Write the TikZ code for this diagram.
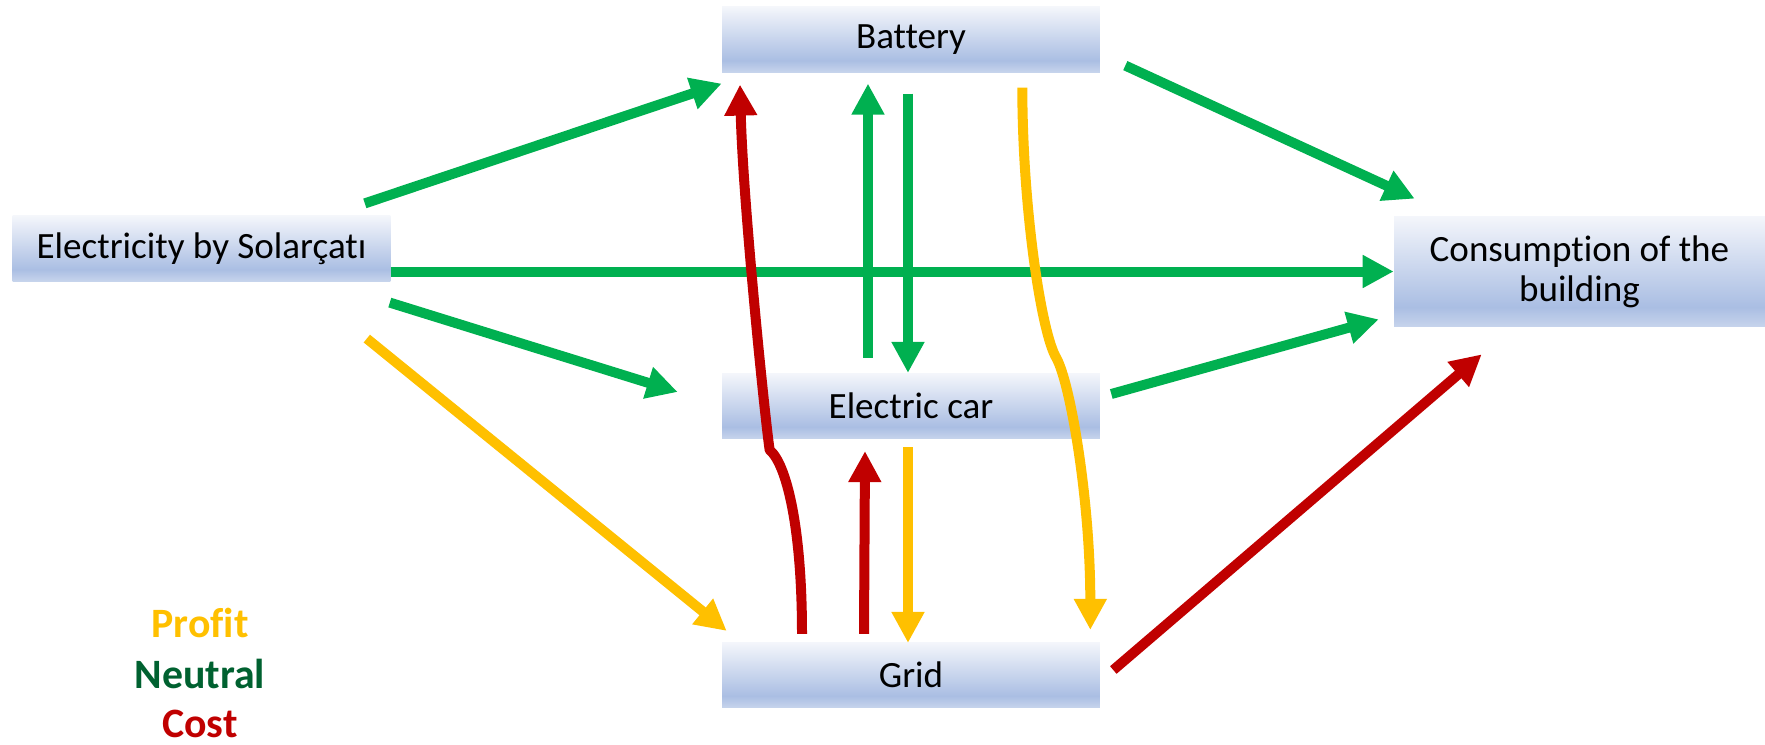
\documentclass[tikz,border=0pt]{standalone}
\usepackage{fontspec}
\setmainfont[RawFeature={-liga;-clig}]{Carlito}
\usetikzlibrary{arrows.meta}
\definecolor{flowgreen}{RGB}{0, 176, 80}
\definecolor{flowred}{RGB}{192, 0, 0}
\definecolor{flowgold}{RGB}{255, 192, 0}
\definecolor{flowdkgreen}{RGB}{0, 97, 48}
\definecolor{boxtop}{RGB}{244, 246, 251}
\definecolor{boxdark}{RGB}{170, 190, 227}
\definecolor{boxbot}{RGB}{199, 212, 236}
\pgfdeclareverticalshading{boxfade}{100bp}{color(0bp)=(boxbot); color(25bp)=(boxbot); color(34bp)=(boxdark); color(75bp)=(boxtop); color(100bp)=(boxtop)}

\begin{document}
\begin{tikzpicture}[
  x=0.02cm, y=-0.02cm,
  flowbox/.style={
    rectangle, shade, shading=boxfade, inner sep=0pt,
    minimum width=7.56cm, minimum height=1.31cm,
    text centered, align=center, text=black,
    font=\fontsize{21.1}{22.8}\selectfont},
  legendtext/.style={anchor=base, text=#1,
    font=\fontsize{23.8}{27}\selectfont\bfseries},
  arr/.style={-{Triangle[length=0.62cm, width=0.62cm]}, line width=0.2cm, color=#1},
  curvearr/.style={arr=#1, line join=round}
]
\useasboundingbox (0,0) rectangle (1765,744);

% ── Boxes ─────────────────────────────────────────────────
\node[flowbox] (solar)   at (201.5, 248.5) {Electricity by Solarçatı};
\node[flowbox] (battery) at (911, 39.5)    {Battery};
\node[flowbox] (car)     at (911, 406)     {Electric car};
\node[flowbox] (grid)    at (911, 675)     {Grid};
\node[flowbox, minimum width=7.42cm, minimum height=2.22cm] (building) at (1579.5, 271.5) {Consumption of the\\building};

% ── Legend ────────────────────────────────────────────────
\node[legendtext=flowgold]    (profit)  at (200, 637) {Profit};
\node[legendtext=flowdkgreen] (neutral) at (200, 688) {Neutral};
\node[legendtext=flowred]     (cost)    at (200, 737) {Cost};

% ── Arrows: from Solarçatı ────────────────────────────────
\draw[arr=flowgreen] ([shift={(-26,-12)}]solar.north east) -- ([shift={(0,11)}]battery.south west);
\draw[arr=flowgreen] (solar.east |- building.west) -- (building.west);
\draw[arr=flowgreen] ([shift={(-1,21)}]solar.south east) -- ([shift={(-44,-14)}]car.west);
\draw[arr=flowgold]  ([shift={(-24,57)}]solar.south east) -- ([shift={(5,-11)}]grid.north west);

% ── Arrows: into the building ─────────────────────────────
\draw[arr=flowgreen] ([shift={(25,-7)}]battery.south east) -- ([shift={(21,-17)}]building.north west);
\draw[arr=flowgreen] ([shift={(11,-12)}]car.east) -- ([shift={(-15,-8)}]building.south west);
\draw[arr=flowred]   ([shift={(13,-5)}]grid.east) -- ([shift={(88,27)}]building.south west);

% ── Arrows: battery / car / grid ──────────────────────────
\draw[arr=flowgreen] ([shift={(-43,-15)}]car.north) -- ([shift={(-43,11)}]battery.south);
\draw[arr=flowgreen] ([shift={(-3,21)}]battery.south) -- ([shift={(-3,0)}]car.north);
\draw[arr=flowred]   ([shift={(-47,-8)}]grid.north) -- ([shift={(-46,12)}]car.south);
\draw[arr=flowgold]  ([shift={(-3,8)}]car.south) -- ([shift={(-3,1)}]grid.north);

% ── Arrows: long curved ones ──────────────────────────────
\coordinate (red_kink)  at ([shift={(48,11)}]car.south west);
\coordinate (gold_kink) at ([shift={(-44,-15)}]car.north east);
\draw[curvearr=flowred] ([shift={(-109,-8)}]grid.north)
  .. controls +(0,-110) and +(16,13) .. (red_kink)
  .. controls +(-4,-25) and +(3,120) .. ([shift={(-171,12)}]battery.south);
\draw[curvearr=flowgold] ([shift={(-78,15)}]battery.south east)
  .. controls +(0,120) and +(-15,-25) .. (gold_kink)
  .. controls +(14,25) and +(0,-130) .. ([shift={(-10,-12)}]grid.north east);

\end{tikzpicture}
\end{document}
